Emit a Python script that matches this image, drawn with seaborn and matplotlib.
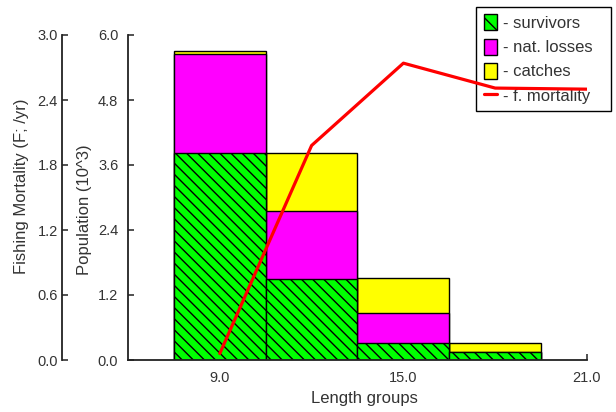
import matplotlib
matplotlib.use("Agg")
import matplotlib.pyplot as plt
import seaborn as sns
import numpy as np
from matplotlib.patches import Patch
from matplotlib.lines import Line2D

# ---- data ----
length_groups = [9, 12, 15, 18]
survivors = [3.82, 1.49, 0.31, 0.14]
nat_losses = [1.83, 1.26, 0.55, 0.0]
catches = [0.05, 1.07, 0.65, 0.17]

f_length = [9, 12, 15, 18, 21]
f_mortality = [0.06, 1.98, 2.74, 2.51, 2.50]

pop_ticks = [0.0, 1.2, 2.4, 3.6, 4.8, 6.0]
f_ticks = [0.0, 0.6, 1.2, 1.8, 2.4, 3.0]
x_ticks = [9, 15, 21]

sns.set_theme(style="white")
plt.rcParams['font.family'] = ['Liberation Sans', 'DejaVu Sans']
plt.rcParams['hatch.linewidth'] = 1.0

GREEN, MAGENTA, YELLOW, RED = "#00FF00", "#FF00FF", "#FFFF00", "#FF0000"
TXT = "#333333"

fig = plt.figure(figsize=(6.16, 4.12), dpi=100)
ax = fig.add_axes([128/616, 1-360/412, (587-128)/616, (360-35)/412])

s = np.array(survivors)
n = np.array(nat_losses)
c = np.array(catches)
tot = s + n + c
sn = s + n

kw = dict(native_scale=True, width=1.0, saturation=1, edgecolor="black",
          linewidth=1.0, errorbar=None, ax=ax)
sns.barplot(x=length_groups, y=tot, color=YELLOW, **kw)
sns.barplot(x=length_groups, y=sn, color=MAGENTA, **kw)
sns.barplot(x=length_groups, y=s, color=GREEN, **kw)
for bar in ax.containers[-1]:
    bar.set_hatch("\\\\\\")
    bar.set_edgecolor("black")

ax.set_xlim(6, 21)
ax.set_ylim(0, 6.0)
ax.set_xticks(x_ticks)
ax.set_xticklabels([f"{v:.1f}" for v in x_ticks])
ax.set_yticks(pop_ticks)
ax.set_yticklabels([f"{v:.1f}" for v in pop_ticks])
for sp in ["top", "right"]:
    ax.spines[sp].set_visible(False)
for sp in ["left", "bottom"]:
    ax.spines[sp].set_color("#222222")
    ax.spines[sp].set_linewidth(1.3)
ax.tick_params(axis="both", direction="in", length=4, width=1.1, color="#222222",
               labelsize=10.5, labelcolor=TXT, left=True, bottom=True)
ax.tick_params(axis="y", pad=7)
ax.tick_params(axis="x", pad=8)
ax.set_xlabel("Length groups", fontsize=12, color=TXT)
ax.set_ylabel("Population (10^3)", fontsize=12, color=TXT, rotation=90,
              ha="center", va="bottom", rotation_mode="default")
ax.yaxis.set_label_coords((85-128)/459, (360-275)/325)
ax.xaxis.set_label_coords((364-128)/459, -0.095)
ax.grid(False)

# fishing mortality axis
ax2 = ax.twinx()
ax2.set_ylim(0, 3.0)
sns.lineplot(x=f_length, y=f_mortality, color=RED, linewidth=2.3, ax=ax2)
ax2.set_xlim(6, 21)
for sp in ["top", "right", "bottom"]:
    ax2.spines[sp].set_visible(False)
ax2.spines["left"].set_visible(True)
ax2.spines["left"].set_position(("outward", 66*72/100))
ax2.spines["left"].set_color("#222222")
ax2.spines["left"].set_linewidth(1.3)
ax2.yaxis.set_ticks_position("left")
ax2.yaxis.set_label_position("left")
ax2.set_yticks(f_ticks)
ax2.set_yticklabels([f"{v:.1f}" for v in f_ticks])
ax2.tick_params(axis="y", direction="in", length=4, width=1.1, color="#222222",
                labelsize=10.5, labelcolor=TXT, pad=3, left=True, right=False)
ax2.set_ylabel("Fishing Mortality (F; /yr)", fontsize=12, color=TXT, rotation=90,
               ha="center", va="bottom", rotation_mode="default")
ax2.yaxis.set_label_coords((22-128)/459, (360-274)/325)
ax2.grid(False)

handles = [
    Patch(facecolor=GREEN, edgecolor="black", hatch="\\", label="- survivors"),
    Patch(facecolor=MAGENTA, edgecolor="black", label="- nat. losses"),
    Patch(facecolor=YELLOW, edgecolor="black", label="- catches"),
    Line2D([0], [0], color=RED, linewidth=2.3, label="- f. mortality"),
]
x0, x1 = 476/616, 611/616
ytop = 1 - 7/412
leg = ax.legend(handles=handles, loc="upper left",
                bbox_to_anchor=(x0, ytop - 0.3, x1 - x0, 0.3), mode="expand",
                bbox_transform=fig.transFigure, borderaxespad=0, fontsize=12,
                frameon=True, fancybox=False, edgecolor="black", facecolor="white",
                framealpha=1, handlelength=0.8, handleheight=1.1, handletextpad=0.35,
                labelspacing=0.45, borderpad=0.45)
leg.get_frame().set_linewidth(1.0)
for t in leg.get_texts():
    t.set_color(TXT)

fig.savefig("out.png", dpi=100)
